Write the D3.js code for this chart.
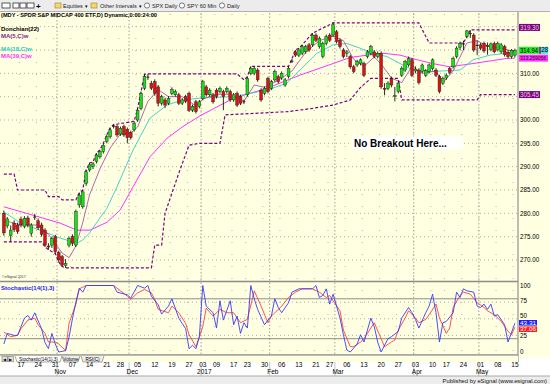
<!DOCTYPE html>
<html><head><meta charset="utf-8">
<script src="https://cdn.jsdelivr.net/npm/d3@7"></script>
<style>body{margin:0;background:#fff;} svg{display:block;font-family:"Liberation Sans",Arial,sans-serif;}</style>
</head><body><svg id="c" width="550" height="384"></svg>
<script>
// ---------- DATA ----------
// day index k: 0 = Oct 10 2016 ... 149 = May 15 2017 (trading days)
const open  = [280.0,277.3,275.2,277.9,277.5,278.7,277.2,279.0,275.7,279.3,278.4,277.5,276.4,273.0,273.2,275.0,271.6,270.7,268.8,273.2,275.0,273.2,281.8,281.4,286.4,289.3,290.0,291.1,292.1,293.2,295.4,296.4,298.6,298.6,297.0,298.6,298.0,297.3,297.9,300.0,302.5,306.8,309.3,307.9,308.2,307.1,303.6,304.3,303.6,305.7,305.4,305.4,303.6,305.0,305.7,302.1,303.9,302.9,304.6,307.1,305.4,305.4,306.4,306.1,306.1,306.1,306.1,304.3,305.7,305.0,303.9,305.4,310.0,310.0,310.7,306.4,305.7,308.9,306.8,308.6,309.3,309.0,307.5,309.3,312.7,314.6,313.9,314.3,314.6,316.1,316.1,318.2,315.7,313.6,316.4,318.2,318.2,318.9,317.1,315.0,314.3,313.6,311.4,311.8,312.1,312.1,313.6,314.3,314.6,313.6,314.3,306.8,306.8,308.9,305.0,306.1,309.6,310.7,311.8,312.9,310.5,310.7,310.4,309.6,310.4,311.0,310.7,309.3,307.9,309.0,311.0,311.4,313.6,315.6,316.4,317.9,318.6,318.2,316.0,316.1,316.4,316.0,315.1,316.4,315.1,314.6,315.7,314.5,313.6,313.9];
const high  = [280.6,279.2,277.4,278.5,278.0,279.3,279.4,279.5,277.9,279.9,278.9,278.0,276.8,273.6,275.0,275.4,272.0,271.1,270.2,275.0,275.5,280.8,284.4,285.0,289.3,290.8,291.0,292.9,293.6,295.0,296.8,298.3,299.0,299.0,298.6,299.0,298.4,297.7,299.7,302.5,306.1,309.8,309.9,308.4,308.7,307.5,305.4,304.8,305.1,307.0,306.5,305.8,304.7,305.4,306.1,303.3,304.3,304.3,308.6,307.5,306.8,305.8,306.8,307.2,306.5,307.2,306.5,305.8,306.1,305.4,304.4,309.3,311.5,311.5,311.1,306.8,307.2,309.3,308.6,310.8,309.7,310.4,309.0,311.5,313.1,315.0,315.4,316.1,316.1,316.5,318.6,318.6,317.9,316.8,318.3,318.6,321.0,319.3,317.5,315.4,315.0,314.0,311.8,312.9,313.2,312.5,315.0,316.1,315.0,314.7,314.7,307.9,308.3,309.3,307.1,308.3,311.5,312.9,313.6,313.3,311.5,311.1,312.1,310.9,312.1,313.2,311.1,309.7,309.3,310.0,311.4,313.6,315.8,316.8,317.0,319.3,319.2,318.6,317.1,316.5,316.8,316.6,316.6,316.8,316.8,316.5,316.1,315.0,315.2,315.3];
const low   = [275.2,276.8,273.9,276.0,275.6,277.0,276.8,277.0,275.0,278.6,276.4,275.0,272.8,272.2,272.6,271.4,269.6,268.6,268.3,272.7,273.0,272.8,281.2,281.0,285.9,288.9,289.5,290.7,291.7,292.8,295.0,296.0,298.2,296.4,296.6,296.4,295.0,295.8,297.5,299.6,302.1,306.4,308.6,306.4,305.2,302.9,303.1,302.6,303.2,305.3,305.0,303.2,303.2,303.6,301.7,301.7,301.4,302.5,304.2,305.0,305.0,303.5,304.6,305.7,302.1,305.7,303.9,303.9,302.8,303.2,303.4,305.0,309.6,309.6,308.2,303.9,305.3,305.7,306.4,308.2,307.8,308.6,307.1,308.9,312.2,313.5,313.5,313.9,314.2,314.6,315.7,316.7,315.3,313.2,316.0,316.7,317.8,316.4,315.3,313.2,313.5,311.0,310.0,311.4,311.7,309.2,313.2,313.9,313.2,313.2,306.7,305.3,306.4,307.0,304.0,305.7,309.2,310.3,311.4,309.2,310.0,307.6,310.0,309.2,310.0,310.6,309.2,305.7,307.5,308.6,309.8,311.0,313.2,315.0,315.0,317.5,317.6,314.6,313.9,315.0,314.4,314.0,314.7,314.3,314.7,314.2,313.6,313.2,313.2,313.4];
const close = [275.8,278.8,276.4,276.5,276.1,277.5,278.9,277.5,277.5,279.2,276.9,275.5,273.2,272.8,274.6,271.8,270.0,268.9,269.3,274.6,273.6,280.4,283.9,284.6,288.9,290.4,290.6,292.5,293.2,294.6,296.4,297.9,298.7,296.8,298.2,296.8,296.2,296.2,299.3,302.1,305.7,309.3,309.2,306.8,305.7,303.6,305.0,303.2,304.6,306.6,306.1,303.6,304.3,304.0,302.1,302.9,301.8,303.9,308.2,305.4,306.4,303.9,305.0,306.8,305.0,306.8,304.3,305.4,303.2,303.6,303.9,308.9,311.1,311.1,308.6,304.3,306.8,306.1,308.2,310.4,308.2,310.0,308.6,311.1,312.6,313.9,315.0,315.7,315.7,315.0,318.2,317.1,317.5,316.4,317.9,317.1,320.4,316.8,315.7,313.6,314.6,311.4,310.4,312.5,312.9,309.6,314.6,315.7,313.6,314.3,307.1,306.6,307.9,307.5,305.2,307.9,311.1,312.5,313.2,309.6,310.9,308.0,311.8,310.6,311.8,312.9,309.6,306.1,308.9,309.6,310.2,313.2,315.4,316.4,316.3,319.1,318.5,315.0,316.0,315.4,314.8,315.8,316.3,314.6,316.4,316.1,314.0,313.6,314.9,314.94];

// indicator key points [day, value]
const ma5 = [[0,278.5],[5,277.5],[10,277.5],[13,275.5],[17,271.5],[19,270.5],[21,273],[23,278],[25,284],[28,289.5],[31,294],[34,297],[37,297.2],[39,298.5],[42,304],[45,306.5],[48,305],[52,305],[56,303],[58,304.5],[62,305.5],[66,305.5],[70,304],[73,307.5],[76,307],[80,308.5],[84,310.5],[88,314.5],[92,317],[96,318],[99,317],[102,313],[105,311.5],[108,313.5],[110,312],[113,309],[116,308],[119,311.5],[122,310],[126,310.5],[128,308],[131,310.5],[135,316.5],[138,317],[141,315.8],[145,315.4],[149,314.6]];
const ma18 = [[0,280.3],[4.7,278],[10.5,276.4],[16.4,274.7],[21.3,273.6],[23,274.3],[25,275.8],[28,279],[30,281],[33,285.7],[37.7,293.6],[42.6,300.4],[47.6,303.2],[52.2,304.3],[57.2,304.7],[66.8,305],[76.7,306.4],[82.5,307.9],[86.3,310.7],[91.3,314.3],[96,316.1],[100,316.4],[103.8,315.4],[107.6,314.3],[111.7,313.6],[115.5,312.1],[119.3,310.7],[125,310.4],[130,310.6],[133,310.7],[136.8,312.9],[141.7,313.9],[146.7,314.3],[149,314.6]];
const ma39 = [[0,281.4],[8.5,279.6],[16.4,277.9],[21.3,276.4],[25.1,276.4],[30.1,278.1],[33.9,280.7],[37.7,285.7],[42.6,292.1],[47.6,296.1],[52.2,298.6],[57.2,300.9],[66.8,304.6],[76.7,306.8],[86.3,309.6],[96,312.1],[101,313.4],[105.9,313.9],[110.5,314.3],[115.5,313.9],[120.5,312.9],[125,312.1],[130,311.4],[136.8,312.1],[146.7,313.2],[149,313.26]];
const donUpper = [[0,288.4],[3,288.4],[4,285.0],[12,285.0],[13,283.6],[16,283.6],[17,282.9],[21,282.9],[22,284.4],[23,285.0],[24,289.3],[25,290.8],[26,291.0],[27,292.9],[28,293.6],[29,295.0],[30,296.8],[31,298.3],[32,299.0],[38,299.7],[39,302.5],[40,306.1],[41,309.8],[42,309.9],[68,309.9],[70,308.6],[71,309.3],[72,311.5],[83,311.5],[84,313.1],[85,315.0],[86,315.4],[87,316.1],[90,318.6],[96,320.8],[121,320.8],[124,316.5],[134,316.5],[136,319.3],[149,319.3]];
const donLower = [[0,273.9],[11,273.9],[12,272.8],[13,272.2],[15,271.4],[16,269.6],[17,268.6],[18,268.3],[43,268.3],[44,273.2],[46,273.2],[47,280.0],[49,284.3],[51,288.6],[54,294.6],[57,295.0],[63,295.0],[64.5,301.1],[83,301.8],[90,302.5],[96,303.2],[101,304.3],[104,307.0],[107,308.9],[115,308.9],[116,304.3],[138,304.3],[139,305.45],[149,305.45]];
const stochK = [[0,12],[1,28],[3,25],[4,25],[6,51],[7,55],[8,48],[9,59],[11,35],[12,14],[13,5],[14,28],[15,12],[16,0],[18,2],[19,22],[20,50],[21,75],[22,96],[23,90],[24,100],[32,100],[33,90],[36,86],[37,81],[39,100],[41,96],[42,100],[43,84],[45,71],[46,57],[48,69],[49,80],[51,51],[52,43],[53,35],[54,5],[55,10],[56,5],[57,23],[58,100],[59,69],[61,59],[62,36],[63,77],[64,48],[66,77],[67,41],[68,54],[69,28],[70,44],[71,36],[72,100],[73,80],[74,64],[76,41],[77,48],[78,54],[79,80],[80,67],[81,59],[83,74],[84,90],[86,95],[90,95],[91,100],[92,82],[93,85],[94,95],[95,72],[96,87],[98,51],[99,26],[100,3],[101,0],[103,12],[104,26],[105,15],[107,51],[108,38],[109,15],[110,0],[112,20],[113,23],[115,31],[116,51],[118,67],[119,59],[120,49],[121,36],[123,59],[124,69],[125,87],[126,59],[127,15],[128,44],[129,46],[131,59],[132,90],[133,82],[134,95],[135,92],[137,90],[138,69],[139,67],[140,72],[141,64],[142,72],[143,54],[144,56],[146,41],[147,15],[149,43.31]];
const stochD = [[0,30],[2,23],[4,25],[5,35],[7,48],[9,51],[10,41],[12,28],[13,15],[15,15],[16,12],[18,2],[19,43],[21,72],[22,95],[24,100],[32,100],[34,92],[36,84],[37,79],[39,89],[41,94],[43,89],[44,79],[45,64],[48,59],[49,69],[51,59],[53,43],[54,26],[56,8],[58,38],[59,66],[61,54],[63,64],[65,59],[67,59],[69,44],[71,49],[73,92],[75,69],[77,44],[78,54],[79,59],[81,69],[83,82],[85,90],[87,95],[90,95],[92,90],[94,82],[95,85],[96,77],[98,62],[99,33],[101,8],[102,8],[104,15],[105,20],[107,36],[108,44],[110,20],[111,8],[113,15],[114,18],[115,33],[117,51],[118,62],[120,51],[121,44],[123,49],[124,56],[126,72],[127,51],[129,28],[130,36],[131,67],[133,85],[134,90],[136,87],[138,74],[140,67],[141,62],[143,56],[145,46],[147,31],[148,26],[149,37.06]];

const weekTicks = [[5,"17"],[10,"24"],[15,"31"],[20,"07"],[25,"14"],[30,"21"],[34,"28"],[39,"05"],[44,"12"],[49,"19"],[54,"27"],[58,"03"],[62,"09"],[67,"17"],[71,"23"],[76,"30"],[81,"06"],[86,"13"],[91,"21"],[95,"27"],[100,"06"],[105,"13"],[110,"20"],[115,"27"],[120,"03"],[125,"10"],[129,"17"],[134,"24"],[139,"01"],[144,"08"],[149,"15"]];
const monthTicks = [[16,"Nov"],[37,"Dec"],[58,"2017"],[78,"Feb"],[97,"Mar"],[120,"Apr"],[139,"May"]];
const priceTicks = [270,275,280,285,290,295,300,310];
const stochTicks = [0,25,50,75,100];

// ---------- DRAW ----------
const svg = d3.select("#c");
const BG = "#ffffe1";
const x = d3.scaleLinear().domain([0,149]).range([3.85,514.9]);
const y = d3.scaleLinear().domain([270,320]).range([260,26.67]);
const ys = d3.scaleLinear().domain([0,100]).range([352,285.5]);

svg.append("rect").attr("x",0).attr("y",0).attr("width",550).attr("height",384).attr("fill","#fff");
svg.append("rect").attr("x",0).attr("y",12).attr("width",550).attr("height",346).attr("fill",BG);

// toolbar
const tb = svg.append("g");
tb.append("rect").attr("x",0).attr("y",0).attr("width",550).attr("height",11).attr("fill","#ececec");
tb.append("line").attr("x1",0).attr("x2",550).attr("y1",11.5).attr("y2",11.5).attr("stroke","#b0b0b0");
[[2,8],[13,6],[20,6],[27,7]].forEach(([a,w])=>{
  tb.append("rect").attr("x",a).attr("y",3).attr("width",w).attr("height",5).attr("fill","#fff").attr("stroke","#333").attr("stroke-width",0.8);
});
tb.append("text").attr("x",36).attr("y",8.5).attr("font-size",8).attr("font-weight","bold").text("+");
[[55,"Equities",63],[91,"Other Intervals",100]].forEach(([fx,t,tx])=>{
  tb.append("rect").attr("x",fx).attr("y",3).attr("width",6).attr("height",5).attr("fill","#f5d76e").attr("stroke","#a08020").attr("stroke-width",0.6);
  tb.append("text").attr("x",tx).attr("y",8).attr("font-size",5.6).attr("fill","#222").text(t);
});
tb.append("text").attr("x",85).attr("y",8).attr("font-size",5).text("▾");
tb.append("text").attr("x",139).attr("y",8).attr("font-size",5).text("▾");
[[147,"SPX Daily"],[182,"SPY 60 Min"],[222,"Daily"]].forEach(([cx,t])=>{
  tb.append("circle").attr("cx",cx).attr("cy",5.5).attr("r",2.6).attr("fill","#fff").attr("stroke","#444").attr("stroke-width",0.7);
  tb.append("text").attr("x",cx+5).attr("y",8).attr("font-size",5.6).attr("fill","#222").text(t);
});

// grid
const grid = svg.append("g");
d3.range(270,321,5).forEach(p=>{
  grid.append("line").attr("x1",0).attr("x2",518).attr("y1",y(p)).attr("y2",y(p))
    .attr("stroke","#9a9a9a").attr("stroke-width",0.8).attr("stroke-dasharray","1,3");
});
[25,50,75].forEach(v=>{
  grid.append("line").attr("x1",0).attr("x2",518).attr("y1",ys(v)).attr("y2",ys(v))
    .attr("stroke","#9a9a9a").attr("stroke-width",0.8).attr("stroke-dasharray","1,3");
});
[20,80].forEach(v=>{
  grid.append("line").attr("x1",0).attr("x2",518).attr("y1",ys(v)).attr("y2",ys(v))
    .attr("stroke","#8c8c8c").attr("stroke-width",1);
});
weekTicks.forEach(([k])=>{
  grid.append("line").attr("x1",x(k)-1.7).attr("x2",x(k)-1.7).attr("y1",14).attr("y2",355)
    .attr("stroke","#a0a0a0").attr("stroke-width",0.8).attr("stroke-dasharray","1,11");
});
monthTicks.forEach(([k])=>{
  grid.append("line").attr("x1",x(k)-1.7).attr("x2",x(k)-1.7).attr("y1",13).attr("y2",355)
    .attr("stroke","#8a8a8a").attr("stroke-width",0.8).attr("stroke-dasharray","1.5,2");
});
[[281.5,"#8c8c8c",1.5],[355,"#8c8c8c",1.5]].forEach(([yy,c,w])=>{
  svg.append("line").attr("x1",0).attr("x2",518).attr("y1",yy).attr("y2",yy).attr("stroke",c).attr("stroke-width",w);
});
svg.append("line").attr("x1",518).attr("x2",518).attr("y1",12).attr("y2",362).attr("stroke","#909090").attr("stroke-width",1.2);

// indicator lines
const line = d3.line().x(d=>x(d[0])).y(d=>y(d[1]));
const sline = d3.line().x(d=>x(d[0])).y(d=>ys(d[1]));
svg.append("path").attr("d",line(ma39)).attr("fill","none").attr("stroke","#ff33ff").attr("stroke-width",1);
svg.append("path").attr("d",line(ma18)).attr("fill","none").attr("stroke","#33cccc").attr("stroke-width",0.9);
svg.append("path").attr("d",line(ma5)).attr("fill","none").attr("stroke","#a040a8").attr("stroke-width",0.8);
svg.append("path").attr("d",line(donUpper)).attr("fill","none").attr("stroke","#800080").attr("stroke-width",1.2).attr("stroke-dasharray","3,2");
svg.append("path").attr("d",line(donLower)).attr("fill","none").attr("stroke","#800080").attr("stroke-width",1.2).attr("stroke-dasharray","3,2");

// candles
const cg = svg.append("g");
close.forEach((c,k)=>{
  const o=open[k], h=high[k], l=low[k];
  const xx = x(k);
  cg.append("line").attr("x1",xx).attr("x2",xx).attr("y1",y(h)).attr("y2",y(l)).attr("stroke","#111").attr("stroke-width",0.9);
  if (Math.abs(c-o) < 0.15) {
    cg.append("line").attr("x1",xx-1.4).attr("x2",xx+1.4).attr("y1",y(c)).attr("y2",y(c)).attr("stroke","#111").attr("stroke-width",1);
  } else {
    const top = y(Math.max(o,c)), bot = y(Math.min(o,c));
    cg.append("rect").attr("x",xx-1.4).attr("y",top).attr("width",2.8).attr("height",Math.max(bot-top,1))
      .attr("fill", c>o ? "#16e016" : "#e01010").attr("stroke","#222").attr("stroke-width",0.45);
  }
});

// stochastic
svg.append("path").attr("d",sline(stochD)).attr("fill","none").attr("stroke","#ff4040").attr("stroke-width",0.9);
svg.append("path").attr("d",sline(stochK)).attr("fill","none").attr("stroke","#3a3aff").attr("stroke-width",0.9);

// legends
const lg = svg.append("g").attr("font-weight","bold");
lg.append("text").attr("x",1).attr("y",17).attr("font-size",6).attr("fill","#000").attr("textLength",156).attr("lengthAdjust","spacingAndGlyphs").text("(MDY - SPDR S&P MIDCAP 400 ETF,D) Dynamic,0:00:24:00");
lg.append("text").attr("x",1).attr("y",31).attr("font-size",6).attr("fill","#000").text("Donchian(22)");
lg.append("text").attr("x",1).attr("y",37.5).attr("font-size",6).attr("fill","#8b1a8b").text("MA(5,C)w");
lg.append("text").attr("x",1).attr("y",50.5).attr("font-size",6).attr("fill","#22c8c8").text("MA(18,C)w");
lg.append("text").attr("x",1).attr("y",57.5).attr("font-size",6).attr("fill","#ff30ff").text("MA(39,C)w");
lg.append("text").attr("x",1).attr("y",289.5).attr("font-size",6).attr("fill","#2020ff").text("Stochastic(14(1),3)");
svg.append("text").attr("x",2).attr("y",278).attr("font-size",3.6).attr("fill","#333").text("©eSignal 2017");

// annotation
svg.append("rect").attr("x",352).attr("y",136.5).attr("width",111).attr("height",13).attr("fill","#fff");
svg.append("text").attr("x",354).attr("y",147).attr("font-size",10).attr("font-weight","bold").attr("fill","#000").text("No Breakout Here...");

// right axis labels
const ax = svg.append("g").attr("font-size",6.3);
priceTicks.forEach(p=>{
  ax.append("text").attr("x",520).attr("y",y(p)+2.2).attr("fill","#000").text(p.toFixed(2));
});
function box(yc, w, fill, txt, tc, h, fs, tl){
  h = h||7; fs = fs||6.3; tl = tl||(w-2);
  ax.append("rect").attr("x",519).attr("y",yc-h/2).attr("width",w).attr("height",h).attr("fill",fill);
  ax.append("text").attr("x",520).attr("y",yc+fs*0.36).attr("font-size",fs).attr("fill",tc)
    .attr("textLength",tl).attr("lengthAdjust","spacingAndGlyphs").text(txt);
}
box(y(donUpper[donUpper.length-1][1])-2.5, 21, "#800080", "319.30", "#e0d0e0");
box(y(donLower[donLower.length-1][1]), 21, "#800080", "305.45", "#e0d0e0");
box(y(ma39[ma39.length-1][1]), 29, "#ff33ff", "313.259056", "#300030", 7, 5.6, 26);
box(y(close[149]), 20, "#22ee22", "314.94", "#000");
ax.append("rect").attr("x",539).attr("y",y(close[149])-3.5).attr("width",2).attr("height",7).attr("fill","#9030a0");
ax.append("rect").attr("x",541).attr("y",y(close[149])-3.5).attr("width",7).attr("height",7).attr("fill","#40e0e0");
ax.append("text").attr("x",541.3).attr("y",y(close[149])+2.2).attr("fill","#000").text("28");
const stochLabelY = {100:2.2, 75:1.2, 50:-0.6, 25:3.0, 0:1.8};
stochTicks.forEach(v=>{
  ax.append("text").attr("x",520).attr("y",ys(v)+stochLabelY[v]).attr("fill","#000").text(v);
});
box(322.8, 18, "#2020ff", "43.31", "#fff", 5.6, 5.4);
box(329.2, 18, "#ff2020", "37.06", "#fff", 5.6, 5.4);

// tab row
const tr = svg.append("g");
tr.append("rect").attr("x",0).attr("y",355.8).attr("width",518).attr("height",6.5).attr("fill",BG);
[[2,"◀"],[8,"▶"]].forEach(([bx,t])=>{
  tr.append("rect").attr("x",bx).attr("y",356.3).attr("width",5.5).attr("height",5.5).attr("fill","#e0e0e0").attr("stroke","#666").attr("stroke-width",0.5);
  tr.append("text").attr("x",bx+1).attr("y",360.8).attr("font-size",4).attr("fill","#000").text(t);
});
[[15,62,"Stochastic(14(1),3)","#fff"],[62,80,"Volume","#ededed"],[81,104,"RSI(C)","#ededed"]].forEach(([a,b,t,f])=>{
  tr.append("path").attr("d",`M${a},356 L${a+2},362 L${b-2},362 L${b},356`).attr("fill",f).attr("stroke","#555").attr("stroke-width",0.5);
  tr.append("text").attr("x",(a+b)/2).attr("y",360.8).attr("text-anchor","middle").attr("font-size",4.6).attr("fill","#000").text(t);
});

// x axis area
const xa = svg.append("g").attr("font-size",6.5).attr("fill","#000");
weekTicks.forEach(([k,t])=>{
  xa.append("text").attr("x",x(k)).attr("y",367).attr("text-anchor","middle").text(t);
});
monthTicks.forEach(([k,t])=>{
  xa.append("line").attr("x1",x(k)-1.7).attr("x2",x(k)-1.7).attr("y1",362).attr("y2",376).attr("stroke","#999").attr("stroke-width",0.6);
  xa.append("text").attr("x",x(k)+1.5).attr("y",374).attr("text-anchor","middle").text(t);
});

// bottom bar
svg.append("rect").attr("x",0).attr("y",376).attr("width",550).attr("height",8).attr("fill","#ececec");
svg.append("line").attr("x1",0).attr("x2",550).attr("y1",376).attr("y2",376).attr("stroke","#a8a8a8");
svg.append("text").attr("x",547).attr("y",382.5).attr("text-anchor","end").attr("font-size",5.8).attr("fill","#111").text("Published by eSignal (www.esignal.com)");
</script></body></html>
